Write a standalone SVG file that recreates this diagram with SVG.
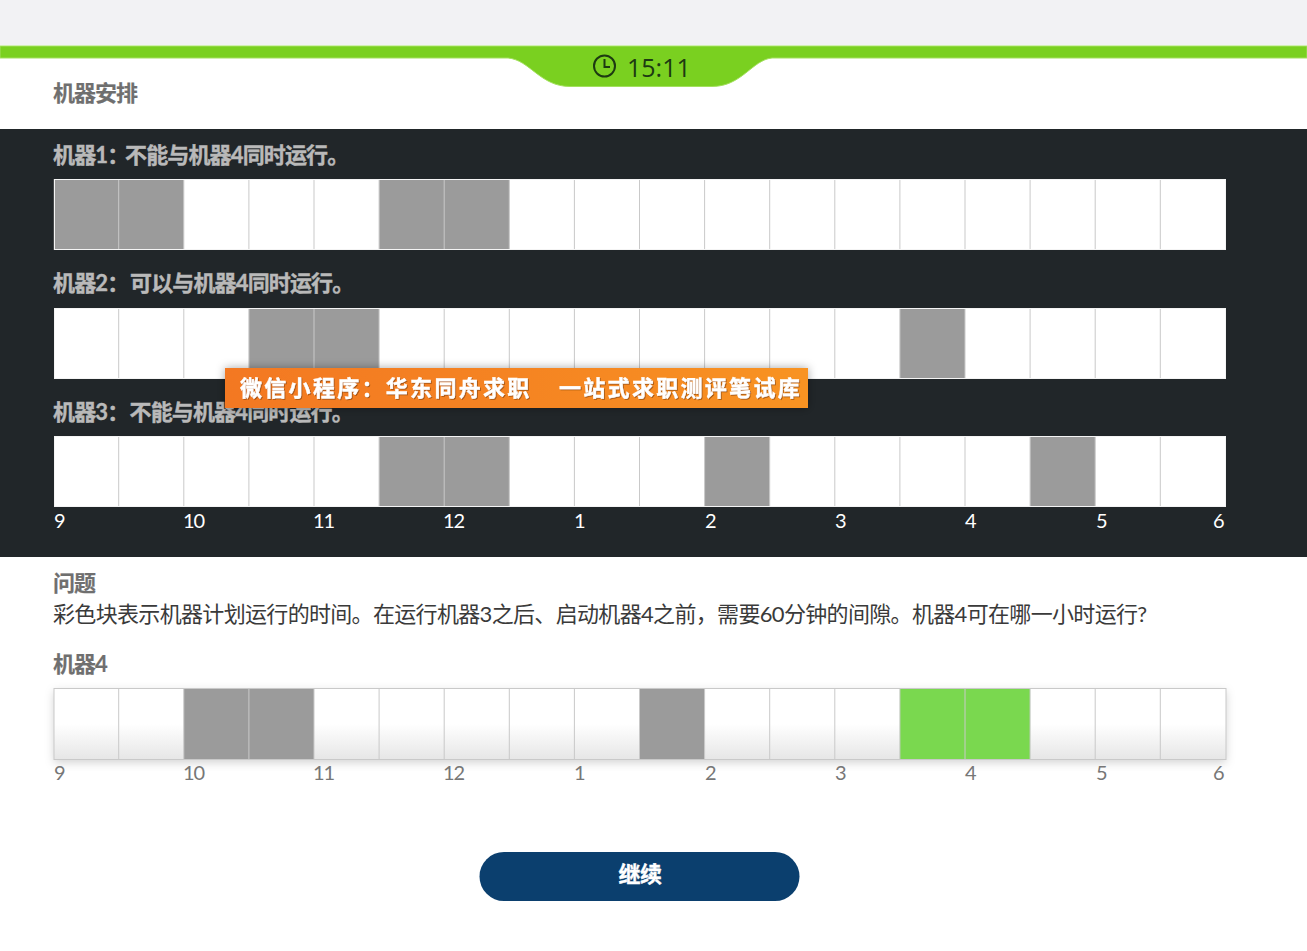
<svg xmlns="http://www.w3.org/2000/svg" width="1307" height="951" viewBox="0 0 1307 951">
<style>
text{font-family:"Lato","Noto Sans CJK SC",sans-serif}
.t{font-size:22px;font-weight:700;fill:#b9b9b9;letter-spacing:-.85px;stroke:#b9b9b9;stroke-width:.4px}
.h{font-size:22px;font-weight:700;fill:#6f6f6f;letter-spacing:-1px;stroke:#6f6f6f;stroke-width:.2px}
.n{font-size:20px;fill:#fff;letter-spacing:-1.2px}
.m{font-size:20px;fill:#777;letter-spacing:-1.2px}
.g{fill:#9b9b9b}
.l{fill:none;stroke:#c9c9c9;stroke-width:1}
.e{fill:none;stroke:#f4f4f4;stroke-width:1}
.b{fill:#fff}
.o{font-size:22px;font-weight:700;fill:#fff;letter-spacing:2.3px;stroke:#fff;stroke-width:.4px}
</style>
<defs>
<path id="lines" class="l" d="M118.700 0V71M183.800 0V71M248.900 0V71M314 0V71M379.100 0V71M444.200 0V71M509.300 0V71M574.400 0V71M639.500 0V71M704.600 0V71M769.700 0V71M834.800 0V71M899.900 0V71M965 0V71M1030.100 0V71M1095.200 0V71M1160.300 0V71"/>
<linearGradient id="fade" x1="0" y1="0" x2="0" y2="1"><stop offset=".5" stop-color="#fff"/><stop offset="1" stop-color="#e6e6e6"/></linearGradient>
<linearGradient id="org" x1="0" y1="0" x2="1" y2="0"><stop offset="0" stop-color="#f37820"/><stop offset=".5" stop-color="#f58422"/><stop offset="1" stop-color="#f89324"/></linearGradient>
<filter id="sh" x="-5%" y="-40%" width="110%" height="180%"><feDropShadow dx="0" dy="0" stdDeviation="5" flood-color="#000" flood-opacity=".35"/></filter>
<filter id="sh2" x="-3%" y="-10%" width="106%" height="125%"><feDropShadow dx="0" dy="3" stdDeviation="5" flood-color="#000" flood-opacity=".18"/></filter>
<filter id="ts" x="-5%" y="-20%" width="110%" height="150%"><feDropShadow dx="1" dy="1" stdDeviation=".6" flood-color="#8a4a10" flood-opacity=".7"/></filter>
</defs>
<rect width="1307" height="951" fill="#fff"/>
<g id="topbar">
<rect width="1307" height="45" fill="#f2f2f4"/>
<path d="M0 46H1307V58H772C752 60 742 86.500 712 86.500H570C540 86.500 530 60 508 58H0Z" fill="#7ad020" stroke="#a3e05e" stroke-width="1"/>
<circle cx="604.500" cy="66" r="10.500" fill="none" stroke="#1d3a12" stroke-width="2"/>
<path d="M604.500 59V67H610" fill="none" stroke="#1d3a12" stroke-width="2"/>
<text x="627" y="77" font-size="25" fill="#1d3a12" style="font-family:'Open Sans',sans-serif">15:11</text>
</g>
<text class="h" x="53" y="101">机器安排</text>
<rect id="panel" y="129" width="1307" height="428" fill="#212629"/>
<g id="machine1">
<text class="t" x="53" y="163">机器1：<tspan x="125">不能与机器4同时运行。</tspan></text>
<g transform="translate(0,179)">
<rect x="54" width="1172" height="71" class="b"/>
<rect x="53.700" width="130.100" height="71" class="g"/><rect x="379.100" width="130.200" height="71" class="g"/>
<use href="#lines"/>
<rect x="54.500" y=".5" width="1171" height="70" class="e"/>
</g>
</g>
<g id="machine2">
<text class="t" x="53" y="291">机器2：<tspan x="130">可以与机器4同时运行。</tspan></text>
<g transform="translate(0,308)">
<rect x="54" width="1172" height="71" class="b"/>
<rect x="248.900" width="130.200" height="71" class="g"/><rect x="899.900" width="65.100" height="71" class="g"/>
<use href="#lines"/>
<rect x="54.500" y=".5" width="1171" height="70" class="e"/>
</g>
</g>
<g id="machine3">
<text class="t" x="53" y="420">机器3：<tspan x="129.500">不能与机器4同时运行。</tspan></text>
<g transform="translate(0,436)">
<rect x="54" width="1172" height="71" class="b"/>
<rect x="379.100" width="130.200" height="71" class="g"/><rect x="704.600" width="65.100" height="71" class="g"/><rect x="1030.100" width="65.100" height="71" class="g"/>
<use href="#lines"/>
<rect x="54.500" y=".5" width="1171" height="70" class="e"/>
</g>
</g>
<g id="axis-dark">
<text class="n" x="54" y="528">9</text><text class="n" x="183" y="528">10</text><text class="n" x="313" y="528">11</text><text class="n" x="443" y="528">12</text><text class="n" x="574" y="528">1</text><text class="n" x="705" y="528">2</text><text class="n" x="835" y="528">3</text><text class="n" x="965" y="528">4</text><text class="n" x="1096" y="528">5</text><text class="n" x="1213" y="528">6</text>
</g>
<g id="question">
<text class="h" x="53" y="591">问题</text>
<text x="53" y="622" font-size="22" fill="#3a3a3a" letter-spacing="-.67">彩色块表示机器计划运行的时间。在运行机器3之后、启动机器4之前，需要60分钟的间隙。机器4可在哪一小时运行?</text>
</g>
<g id="machine4">
<text class="h" x="53" y="672">机器4</text>
<g transform="translate(0,688.500)">
<rect x="54" width="1172" height="71" fill="url(#fade)" filter="url(#sh2)"/>
<rect x="183.800" width="130.200" height="71" class="g"/><rect x="639.500" width="65.100" height="71" class="g"/><rect x="899.900" width="130.200" height="71" fill="#7ad84f"/>
<use href="#lines"/>
<rect x="54" width="1172" height="71" class="l"/>
</g>
</g>
<g id="axis-light">
<text class="m" x="54" y="780">9</text><text class="m" x="183" y="780">10</text><text class="m" x="313" y="780">11</text><text class="m" x="443" y="780">12</text><text class="m" x="574" y="780">1</text><text class="m" x="705" y="780">2</text><text class="m" x="835" y="780">3</text><text class="m" x="965" y="780">4</text><text class="m" x="1096" y="780">5</text><text class="m" x="1213" y="780">6</text>
</g>
<g id="continue">
<rect x="479.500" y="852" width="320" height="49" rx="24.500" fill="#0b3f6e"/>
<text x="640" y="882" font-size="22" font-weight="700" fill="#fff" stroke="#fff" stroke-width=".4" letter-spacing="-.5" text-anchor="middle">继续</text>
</g>
<g id="banner">
<rect x="225" y="368" width="583" height="40" fill="url(#org)" filter="url(#sh)"/>
<g filter="url(#ts)">
<text class="o" x="240" y="396">微信小程序：华东同舟求职</text>
<text class="o" x="559" y="396">一站式求职测评笔试库</text>
</g>
</g>
</svg>
